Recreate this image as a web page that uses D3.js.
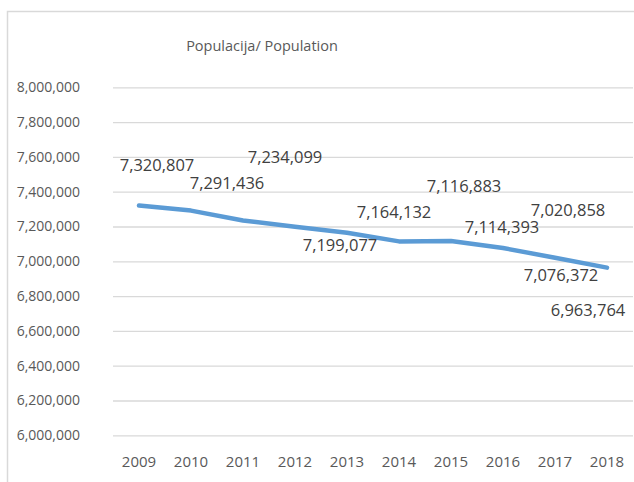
<!DOCTYPE html>
<html><head><meta charset="utf-8">
<script src="https://cdn.jsdelivr.net/npm/d3@7"></script>
<style>body{margin:0;background:#fff}svg{display:block}</style>
</head><body>
<script>
// ---- data ----
const years = ["2009","2010","2011","2012","2013","2014","2015","2016","2017","2018"];
const population = [7320807,7291436,7234099,7199077,7164132,7114393,7116883,7076372,7020858,6963764];
const yTicks = [6000000,6200000,6400000,6600000,6800000,7000000,7200000,7400000,7600000,7800000,8000000];
const title = "Populacija/ Population";

// ---- layout: label offsets from their points (px), as placed in the original ----
const labelOffsets = [[18,-40.5],[36,-27.6],[42,-63.6],[45,18.3],[47,-20.7],[103,-14.4],[13,-55],[58,27],[13,-47.7],[-19,42.4]];

const W = 634, H = 482;
const svg = d3.select("body").append("svg").attr("width", W).attr("height", H);
const font = "'Open Sans', sans-serif";
const grey = "#595959";

// chart frame
svg.append("rect").attr("x",7.5).attr("y",11.5).attr("width",W).attr("height",H)
  .attr("fill","#fff").attr("stroke","#d9d9d9").attr("stroke-width",1.5);

const x = d3.scaleBand().domain(years).range([113, 633]);
const y = d3.scaleLinear().domain([6000000, 8000000]).range([435.3, 87.3]);

// gridlines + y axis
const yAxis = d3.axisLeft(y).tickValues(yTicks).tickFormat(d3.format(",")).tickSize(-(633-113)).tickPadding(33);
const gy = svg.append("g").attr("transform","translate(113,0)").call(yAxis);
gy.select(".domain").remove();
gy.selectAll(".tick line").attr("stroke","#d9d9d9").attr("stroke-width",1.3);
gy.selectAll(".tick text").attr("fill",grey).attr("font-family",font).attr("font-size",14).attr("x",-33);

// x axis
const xAxis = d3.axisBottom(x).tickSize(0).tickPadding(0);
const gx = svg.append("g").attr("transform","translate(0,461.7)").call(xAxis);
gx.select(".domain").remove();
gx.selectAll(".tick text").attr("fill",grey).attr("font-family",font).attr("font-size",15).attr("dy","0.35em");

// title
svg.append("text").attr("x",262).attr("y",46).attr("dy","0.35em").attr("text-anchor","middle")
  .attr("fill",grey).attr("font-family",font).attr("font-size",14.5).text(title);

// line
const line = d3.line().x((d,i)=>x(years[i])+x.bandwidth()/2).y(d=>y(d));
svg.append("path").datum(population).attr("d",line).attr("fill","none")
  .attr("stroke","#5B9BD5").attr("stroke-width",4.5).attr("stroke-linecap","round").attr("stroke-linejoin","round");

// data labels
svg.append("g").selectAll("text").data(population).join("text")
  .attr("x",(d,i)=>x(years[i])+x.bandwidth()/2+labelOffsets[i][0])
  .attr("y",(d,i)=>y(d)+labelOffsets[i][1])
  .attr("dy","0.35em").attr("text-anchor","middle")
  .attr("fill","#404040").attr("font-family",font).attr("font-size",16.5)
  .text(d=>d3.format(",")(d));
</script>
</body></html>
